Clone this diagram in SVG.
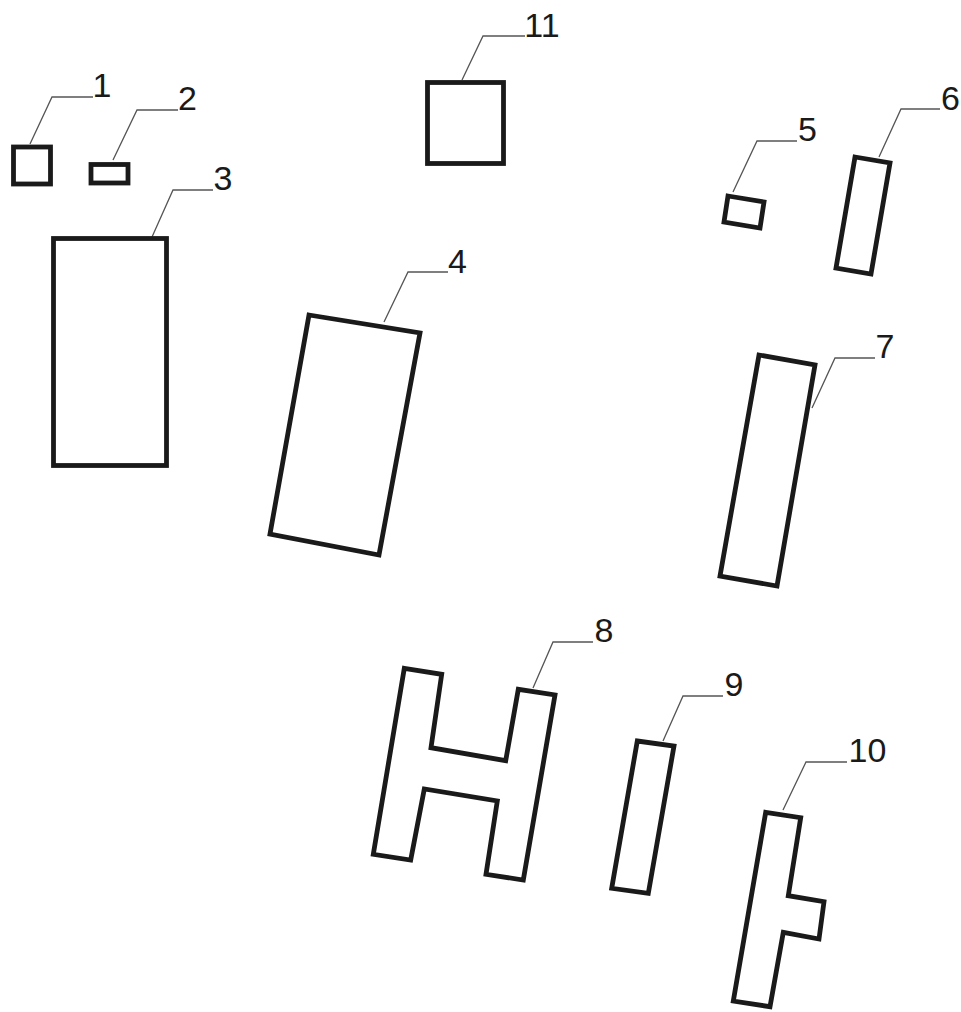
<svg xmlns="http://www.w3.org/2000/svg" width="961" height="1012" viewBox="0 0 961 1012">
<style>
.part{fill:#fff;stroke:#1a1a1a;stroke-width:4.8;stroke-linejoin:miter}
.lead{fill:none;stroke:#555;stroke-width:1.3}
.lbl{font-family:"Liberation Sans",Arial,sans-serif;font-size:34px;fill:#1a1a1a;text-anchor:middle}
</style>
<rect width="961" height="1012" fill="#fff"/>
<g id="connectors">
<polyline class="lead" points="30,144 52,97 93,97"/>
<polyline class="lead" points="113,160 137,110 178,110"/>
<polyline class="lead" points="152,237 173,190 213,190"/>
<polyline class="lead" points="384,322 408,272 448,272"/>
<polyline class="lead" points="462,80 483,36 525,36"/>
<polyline class="lead" points="733,192 757,141 797,141"/>
<polyline class="lead" points="879,157 901,109 940,109"/>
<polyline class="lead" points="812,408 835,358 875,358"/>
<polyline class="lead" points="533,688 553,642 593,642"/>
<polyline class="lead" points="663,741 683,696 723,696"/>
<polyline class="lead" points="783,810 806,762 847,762"/>
</g>
<g id="node1"><rect class="part" x="13.5" y="147" width="37" height="37"/><text class="lbl" x="102" y="97">1</text></g>
<g id="node2"><rect class="part" x="91" y="164.5" width="37" height="18.5"/><text class="lbl" x="187.5" y="110">2</text></g>
<g id="node3"><rect class="part" x="53.5" y="238.5" width="113" height="227"/><text class="lbl" x="223" y="190">3</text></g>
<g id="node4"><polygon class="part" points="309,315 420,333 379,555 270,534"/><text class="lbl" x="457.5" y="273">4</text></g>
<g id="node5"><polygon class="part" points="728,196 764,202 760,228 724,222"/><text class="lbl" x="807.5" y="141">5</text></g>
<g id="node6"><polygon class="part" points="855,157 890,163 871,274 836,268"/><text class="lbl" x="950.5" y="110">6</text></g>
<g id="node7"><polygon class="part" points="759,355 815,365 777,586 720,576"/><text class="lbl" x="885" y="358">7</text></g>
<g id="node8"><polygon class="part" points="404.3,668.3 441.7,674.3 431,747.7 505.7,760.7 518.3,689.3 555,695 523.3,880 486,874.3 497.3,801 424.3,789 410.7,860 373.3,854.3"/><text class="lbl" x="604" y="642">8</text></g>
<g id="node9"><polygon class="part" points="637.3,741 674,746 648.3,893.3 611.7,888.3"/><text class="lbl" x="734" y="696">9</text></g>
<g id="node10"><polygon class="part" points="765.7,812.3 800.7,817.7 788.3,895.7 824,901.7 819,939 783.3,932.3 770,1006.7 733.3,1001"/><text class="lbl" x="867.5" y="762">10</text></g>
<g id="node11"><rect class="part" x="427.5" y="82.5" width="76" height="81"/><text class="lbl" x="542" y="37">11</text></g>
</svg>
